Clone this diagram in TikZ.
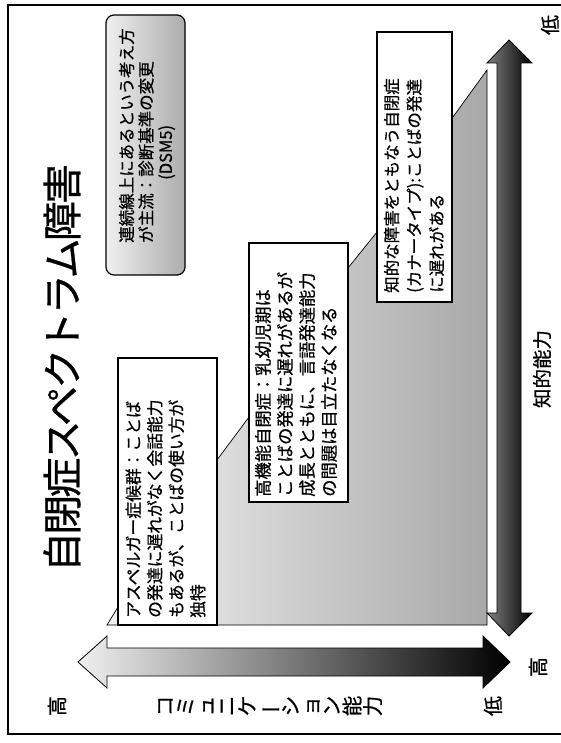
\documentclass[tikz,border=0pt]{standalone}
\usepackage{fontspec}
\setmainfont{Noto Sans CJK JP}[RawFeature={embolden=0.7}]
\newfontfamily\titlefont{Noto Sans CJK JP}[RawFeature={embolden=0.7}, LetterSpace=-7]
\usepackage{graphicx}
\begin{document}
\begin{tikzpicture}[x=1pt,y=-1pt,
  box/.style={draw=black, line width=1.2pt, fill=white, inner sep=0pt},
  txt/.style={rotate=90, anchor=west, align=left, inner sep=0pt},
  lbl/.style={rotate=90, inner sep=0pt, font=\fontsize{20}{20}\selectfont}]
\useasboundingbox (0,0) rectangle (561,743);
\fill[white] (0,0) rectangle (561,743);
% outer frame
\draw[line width=1.6pt] (561,5) -- (8,5) -- (8,734) -- (561,734);
% shaded staircase region
\draw[line width=0.7pt, left color=gray!10, right color=gray!68]
  (107,625) -- (118,607) -- (118,460) -- (217,460) -- (249,417) -- (249,268)
  -- (348,268) -- (377,232) -- (377,117) -- (453,117) -- (487,70) -- (487,625) -- cycle;
% boxes
\node[box, minimum width=99pt, minimum height=267pt] (asp) at (167.5,491.5) {};
\node[box, minimum width=99pt, minimum height=259pt] (hfa) at (298.5,372.5) {};
\node[box, minimum width=75pt, minimum height=270pt] (kan) at (414.5,167) {};
\node[draw=black, line width=1.2pt, rounded corners=8pt, left color=gray!12, right color=gray!65,
  inner sep=0pt, minimum width=79pt, minimum height=260pt] (dsm) at (145.5,145) {};
% box texts
\node[txt, font=\fontsize{16.5}{19.5}\selectfont] (t0) at (147,243)
  {連続線上にあるという考え方\\が主流：診断基準の変更\\\hspace*{63pt}(DSM5)};
\node[txt, font=\fontsize{16.8}{21.5}\selectfont] (t1) at (165.5,618)
  {アスペルガー症候群：ことば\\の発達に遅れがなく会話能力\\もあるが、ことばの使い方が\\独特};
\node[txt, font=\fontsize{17.3}{22}\selectfont] (t2) at (296,497)
  {高機能自閉症：乳幼児期は\\ことばの発達に遅れがあるが\\成長とともに、言語発達能力\\の問題は目立たなくなる};
\node[txt, font=\fontsize{16.5}{22.5}\selectfont] (t3) at (414,293)
  {知的な障害をともなう自閉症\\(カナータイプ):ことばの発達\\に遅れがある};
% title
\node[rotate=90, inner sep=0pt, font=\titlefont\fontsize{40}{42}\selectfont] (title) at (62,368) {自閉症スペクトラム障害};
% horizontal arrow (communication)
\draw[line width=0.8pt, left color=gray!12, right color=black]
  (78,662) -- (107,636) -- (107,648) -- (483,648) -- (483,636) -- (510,662)
  -- (483,688) -- (483,676) -- (107,676) -- (107,688) -- cycle;
% vertical arrow (intellect)
\draw[line width=0.8pt, left color=black!50, right color=black]
  (509,40) -- (532,63) -- (521,63) -- (521,613) -- (532,613) -- (509,636)
  -- (487,613) -- (497,613) -- (497,63) -- (487,63) -- cycle;
% labels
\node[lbl] (hiL) at (57,706) {高};
\node[lbl] (loR) at (493,706) {低};
\node[lbl] (hiV) at (538,667) {高};
\node[lbl] (loV) at (550,25) {低};
\node[lbl, font=\fontsize{19.5}{20}\selectfont] (iq) at (542,369) {知的能力};
\node[rotate=90, inner sep=0pt, anchor=north, align=center, font=\fontsize{20.6}{20.6}\selectfont] (comm) at (158,706)
  {コ\\ミ\\ュ\\ニ\\ケ\\\rotatebox[origin=c]{90}{ー}\\シ\\ョ\\ン\\能\\力};
\end{tikzpicture}
\end{document}
